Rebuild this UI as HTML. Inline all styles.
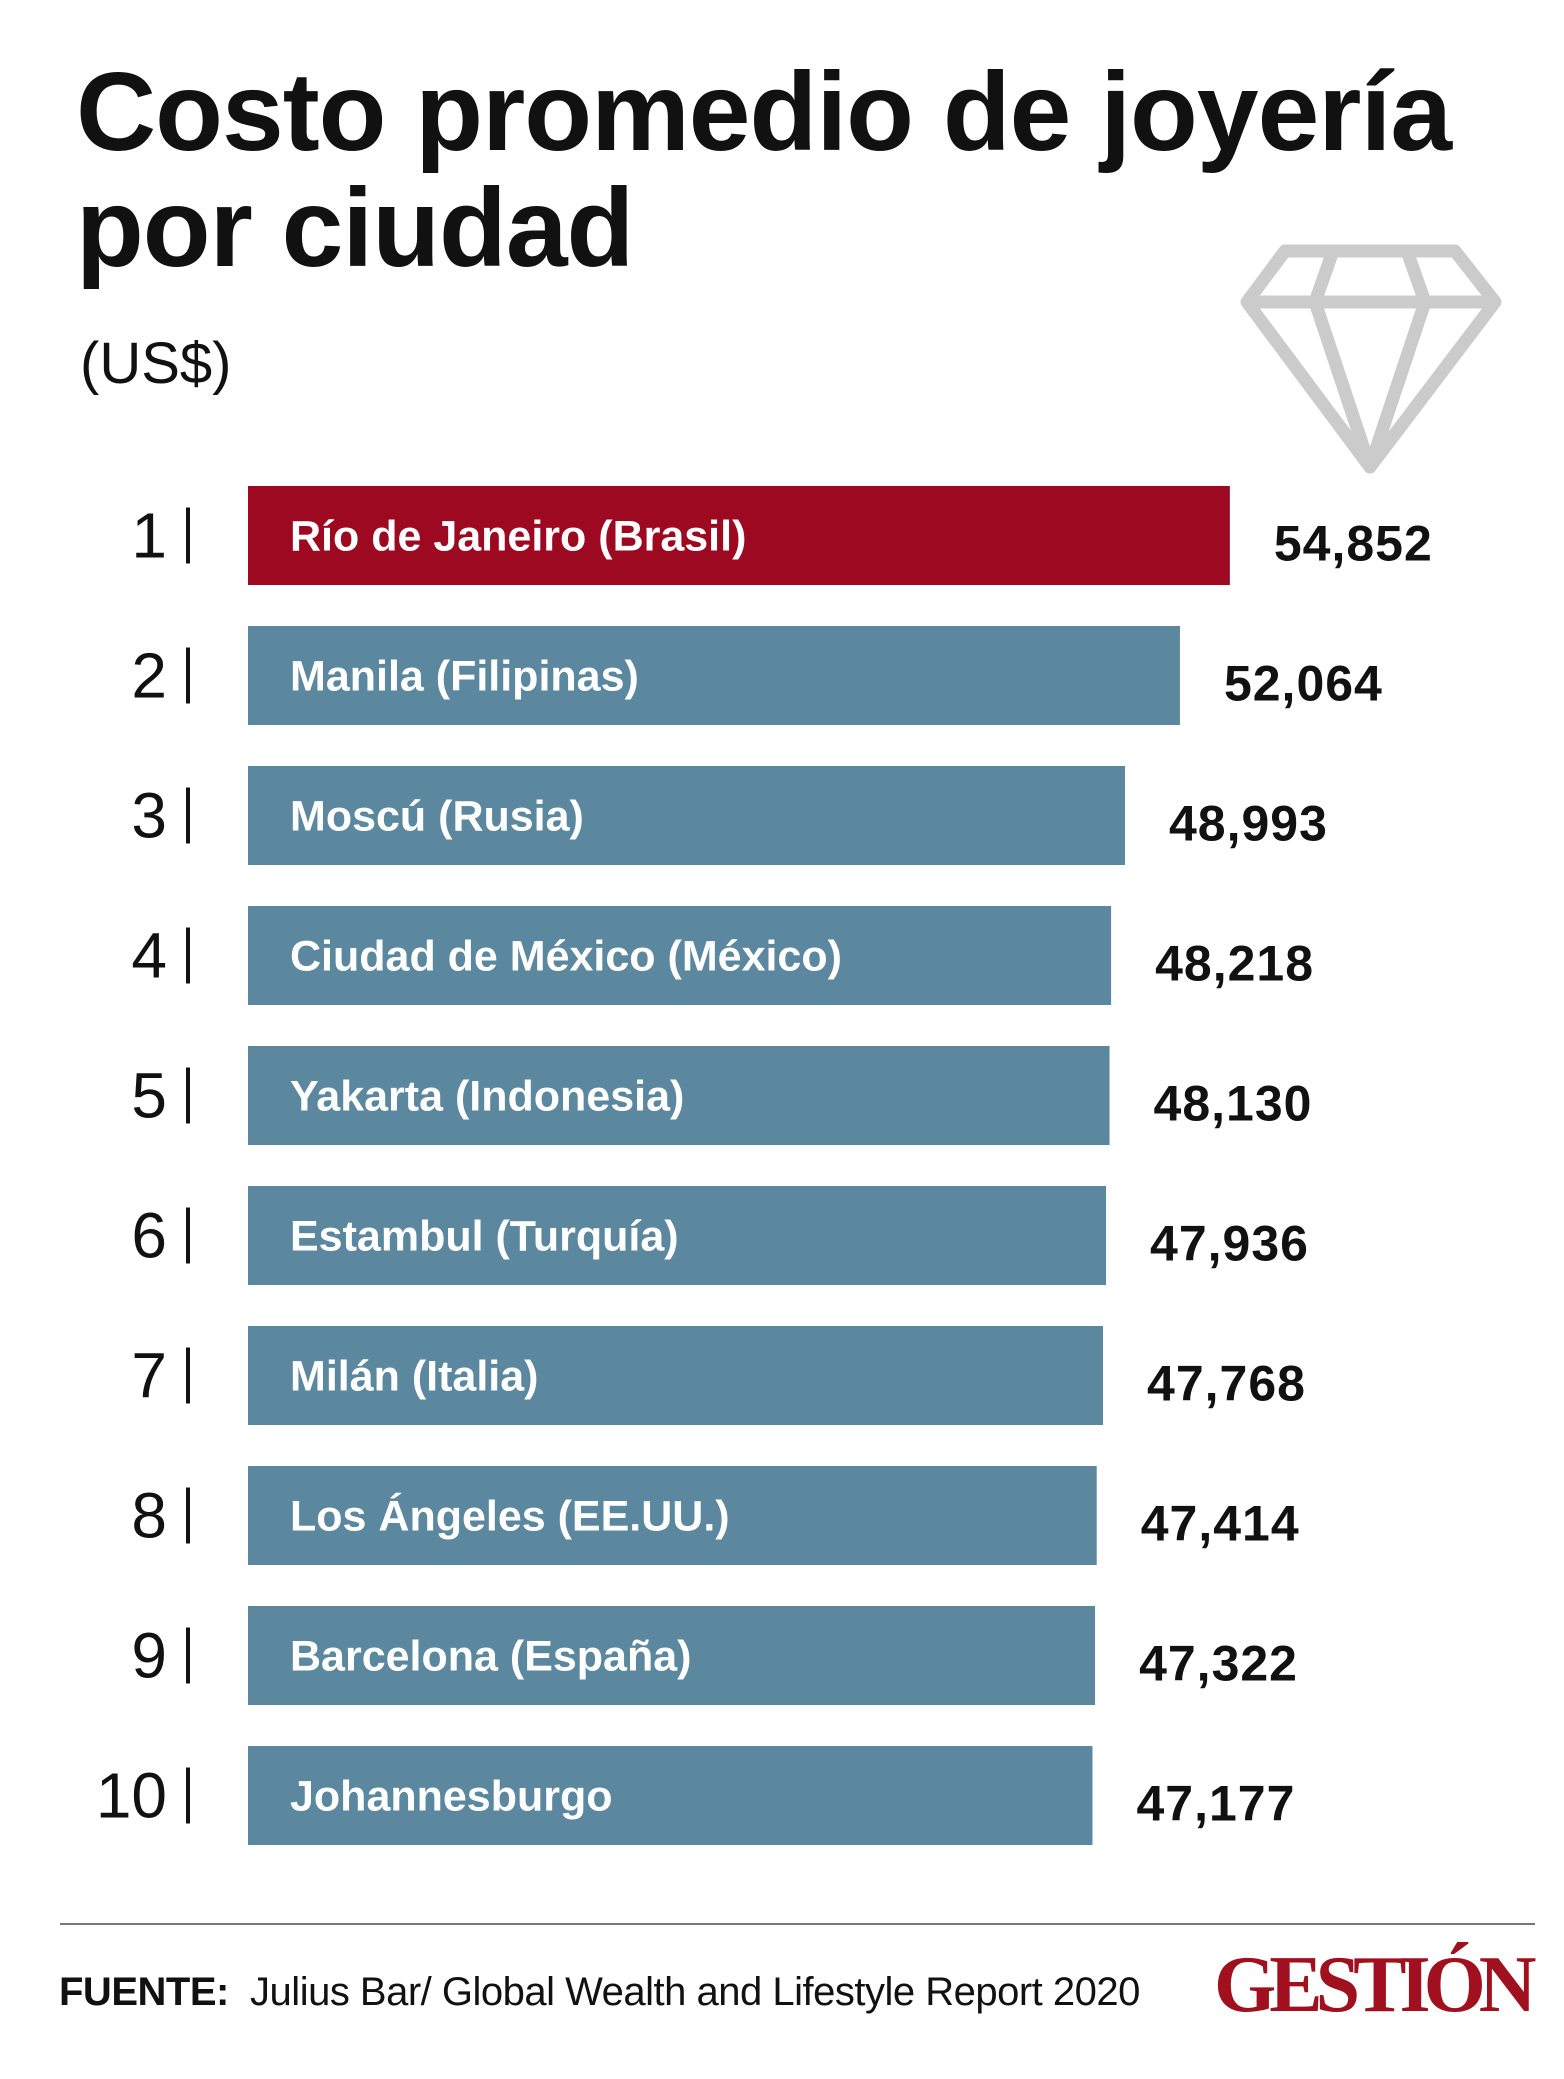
<!DOCTYPE html>
<html><head><meta charset="utf-8"><style>
body{margin:0;width:1564px;height:2079px;background:#fff;position:relative;font-family:"Liberation Sans",sans-serif;overflow:hidden}
.t{position:absolute;white-space:nowrap}
</style></head><body>
<div class="t" style="left:76px;top:54px;font-size:111px;font-weight:bold;line-height:116px;letter-spacing:-1px;color:#111">Costo promedio de joyería<br>por ciudad</div>
<div class="t" style="left:80px;top:330px;font-size:58px;color:#111">(US$)</div>
<svg style="position:absolute;left:0;top:0" width="1564" height="500">
<g fill="none" stroke="#cbcbcb" stroke-width="13" stroke-linejoin="round">
<polygon points="1285,251 1455,251 1495,302 1370,467 1247,302"/>
<line x1="1247" y1="302" x2="1495" y2="302"/>
<polyline points="1333,251 1315,302 1370,467 1425,302 1407,251"/>
</g></svg>
<svg id="chart" style="position:absolute;left:0;top:0" width="1564" height="1900"></svg>
<div style="position:absolute;left:60px;top:1923px;width:1475px;height:2px;background:#777"></div>
<div class="t" style="left:59px;top:1970px;font-size:40px;color:#111;letter-spacing:-0.5px"><b>FUENTE:</b>&nbsp; Julius Bar/ Global Wealth and Lifestyle Report 2020</div>
<div class="t" style="left:1214px;top:1940px;font-family:'Liberation Serif',serif;font-weight:bold;font-size:80px;color:#a0101e;letter-spacing:-7px">GESTIÓN</div>
<script>
const cities=["Río de Janeiro (Brasil)","Manila (Filipinas)","Moscú (Rusia)","Ciudad de México (México)"," Yakarta (Indonesia)","Estambul (Turquía)","Milán (Italia)","Los Ángeles (EE.UU.)","Barcelona (España)","Johannesburgo"];
const values=[54852,52064,48993,48218,48130,47936,47768,47414,47322,47177];
const labels=["54,852","52,064","48,993","48,218","48,130","47,936","47,768","47,414","47,322","47,177"];
const svg=document.getElementById('chart');const NS='http://www.w3.org/2000/svg';
const x0=248,k=0.0179,y0=486,step=140,h=99;
const xs=v=>v*k;
function mk(t,a){const e=document.createElementNS(NS,t);for(const n in a)e.setAttribute(n,a[n]);svg.appendChild(e);return e;}
values.forEach((v,i)=>{
const y=y0+i*step,w=xs(v);
const r=mk('rect',{x:x0,y:y,width:w,height:h,fill:i==0?'#9c0920':'#5b889f'});


const c=mk('text',{x:290,y:y+h/2+15,fill:'#fff','font-size':43,'font-weight':'bold','font-family':'Liberation Sans, sans-serif'});c.textContent=cities[i];


const l=mk('text',{x:x0+w+44,y:y+h/2+25,fill:'#111','font-size':50,'font-weight':'bold','letter-spacing':'1','font-family':'Liberation Sans, sans-serif'});l.textContent=labels[i];


const n=mk('text',{x:167,y:y+h/2+22,fill:'#111','font-size':64,'text-anchor':'end','font-family':'Liberation Sans, sans-serif'});n.textContent=(i+1);


const s=mk('rect',{x:186,y:y+h/2-28,width:4,height:56,fill:'#111'});


});
</script>
</body></html>
